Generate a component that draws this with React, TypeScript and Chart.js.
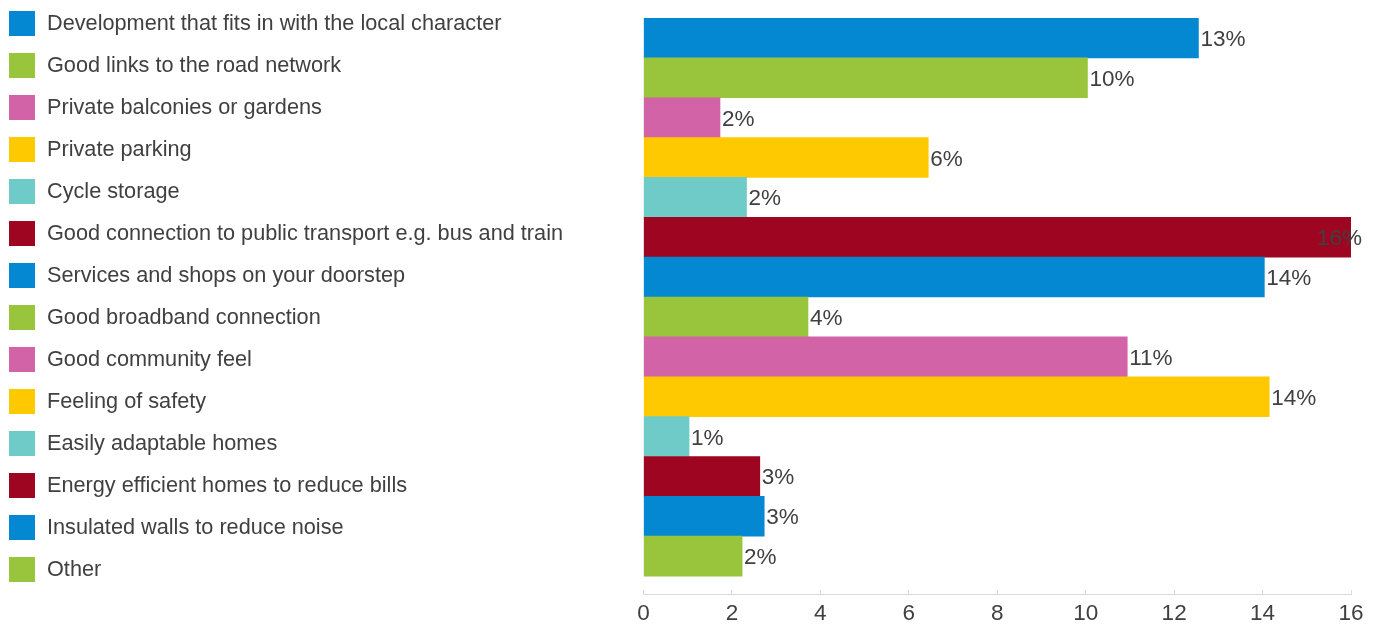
import React, { useEffect, useRef } from 'react';
import { Chart, registerables } from 'chart.js';

Chart.register(...registerables);

const categories = [
  'Development that fits in with the local character',
  'Good links to the road network',
  'Private balconies or gardens',
  'Private parking',
  'Cycle storage',
  'Good connection to public transport e.g. bus and train',
  'Services and shops on your doorstep',
  'Good broadband connection',
  'Good community feel',
  'Feeling of safety',
  'Easily adaptable homes',
  'Energy efficient homes to reduce bills',
  'Insulated walls to reduce noise',
  'Other',
];

const values = [12.55, 10.04, 1.73, 6.44, 2.33, 16.0, 14.04, 3.72, 10.94, 14.15, 1.03, 2.63, 2.73, 2.23];

const valueLabels = ['13%', '10%', '2%', '6%', '2%', '16%', '14%', '4%', '11%', '14%', '1%', '3%', '3%', '2%'];

const barColors = [
  '#0588D2', '#98C53C', '#D263A6', '#FFC900', '#6ECBC7', '#9D0521',
  '#0588D2', '#98C53C', '#D263A6', '#FFC900', '#6ECBC7', '#9D0521',
  '#0588D2', '#98C53C',
];

const xMin = 0;
const xMax = 16;
const xStep = 2;

const TEXT = '#404040';
const FONT = '"Liberation Sans", Arial, sans-serif';

const sideLegend = {
  id: 'sideLegend',
  afterDraw(chart: any) {
    const ctx = chart.ctx;
    const colors = chart.data.datasets[0].backgroundColor as string[];
    ctx.save();
    ctx.font = `21.7px ${FONT}`;
    ctx.textBaseline = 'alphabetic';
    ctx.textAlign = 'left';
    (chart.data.labels as string[]).forEach((lab, i) => {
      const top = 11 + i * 42;
      ctx.fillStyle = colors[i];
      ctx.fillRect(9, top, 26, 25);
      ctx.fillStyle = TEXT;
      ctx.fillText(lab, 47, top + 19.3);
    });
    ctx.restore();
  },
};

const barValueLabels = {
  id: 'barValueLabels',
  afterDatasetsDraw(chart: any) {
    const ctx = chart.ctx;
    const meta = chart.getDatasetMeta(0);
    const size = 22.5;
    ctx.save();
    ctx.font = `${size}px ${FONT}`;
    ctx.fillStyle = TEXT;
    ctx.textBaseline = 'alphabetic';
    ctx.textAlign = 'left';
    const maxRight = chart.chartArea.right + 11;
    meta.data.forEach((bar: any, i: number) => {
      const { x, y } = bar.getProps(['x', 'y'], true);
      const text = valueLabels[i];
      const w = ctx.measureText(text).width;
      const tx = Math.min(x + 2, maxRight - w);
      ctx.fillText(text, tx, y + 0.358 * size);
    });
    ctx.restore();
  },
};

export default function App() {
  const ref = useRef<HTMLCanvasElement | null>(null);

  useEffect(() => {
    if (!ref.current) return;
    const chart = new Chart(ref.current, {
      type: 'bar',
      data: {
        labels: categories,
        datasets: [
          {
            data: values.map((v, i) => ({ x: v, y: i })) as any,
            backgroundColor: barColors,
            borderWidth: 0,
            barPercentage: 1,
            categoryPercentage: 1,
          },
        ],
      },
      options: {
        indexAxis: 'y',
        animation: false,
        responsive: true,
        maintainAspectRatio: false,
        layout: { padding: { left: 643.5, right: 30, top: 18, bottom: 0 } },
        plugins: {
          legend: { display: false },
          tooltip: { enabled: false },
        },
        scales: {
          x: {
            type: 'linear',
            min: xMin,
            max: xMax,
            offset: false,
            ticks: {
              stepSize: xStep,
              color: TEXT,
              font: { family: FONT, size: 22.5 },
              padding: 10,
            },
            grid: {
              drawOnChartArea: false,
              drawTicks: true,
              tickLength: -4,
              color: '#d9d9d9',
            },
            border: { display: true, color: '#d9d9d9', width: 1 },
            afterFit: (s: any) => {
              s.height = 32;
            },
          },
          y: {
            type: 'linear',
            display: false,
            offset: false,
            reverse: true,
            min: -0.5,
            max: categories.length - 0.5 + 0.45,
            grid: { offset: false },
            afterBuildTicks: (s: any) => {
              s.ticks = categories.map((_, i) => ({ value: i }));
            },
          },
        },
      },
      plugins: [sideLegend, barValueLabels],
    });
    return () => chart.destroy();
  }, []);

  return (
    <div style={{ position: 'fixed', left: 0, top: 0, width: '100vw', height: '100vh', background: '#fff' }}>
      <canvas ref={ref} />
    </div>
  );
}
